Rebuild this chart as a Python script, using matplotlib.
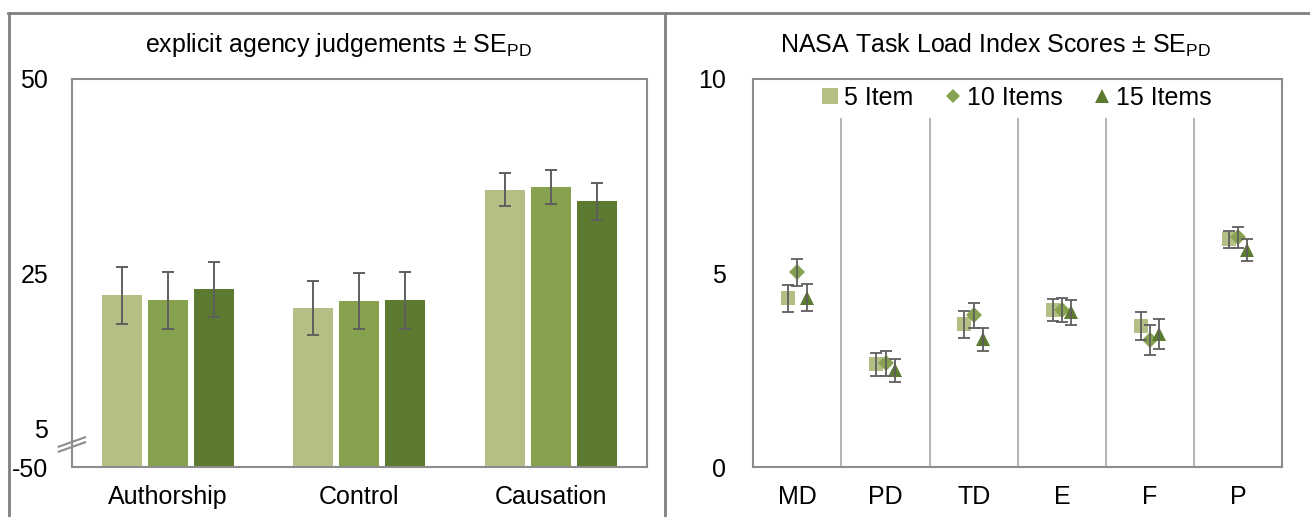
import numpy as np
import matplotlib
matplotlib.use("Agg")
import matplotlib.pyplot as plt
from matplotlib.lines import Line2D

plt.rcParams['font.family'] = ['Liberation Sans', 'DejaVu Sans']
plt.rcParams['mathtext.default'] = 'regular'

# ---------------- data ----------------
series_labels = ['5 Item', '10 Items', '15 Items']
colors = ['#B4BF85', '#86A24F', '#5C7A30']

agency_cats = ['Authorship', 'Control', 'Causation']
agency_5 = [22.15, 20.5, 35.75]
agency_5_err = [3.7, 3.45, 2.1]
agency_10 = [21.5, 21.4, 36.05]
agency_10_err = [3.65, 3.6, 2.2]
agency_15 = [22.9, 21.5, 34.25]
agency_15_err = [3.55, 3.7, 2.35]
agency_ticks = [-50, 5, 25, 50]

tlx_cats = ['MD', 'PD', 'TD', 'E', 'F', 'P']
tlx_5 = [4.35, 2.65, 3.68, 4.05, 3.65, 5.87]
tlx_5_err = [0.34, 0.30, 0.34, 0.29, 0.36, 0.22]
tlx_10 = [5.02, 2.68, 3.92, 4.05, 3.28, 5.93]
tlx_10_err = [0.34, 0.32, 0.32, 0.31, 0.38, 0.27]
tlx_15 = [4.37, 2.50, 3.30, 3.99, 3.44, 5.60]
tlx_15_err = [0.34, 0.30, 0.30, 0.32, 0.39, 0.28]
tlx_ticks = [0, 5, 10]

W, H = 1310, 517
fig = plt.figure(figsize=(W / 100, H / 100), dpi=100)

FS = 18
GRAY = '#8C8C8C'
ERR = '#5F5F5F'

def fx(px):
    return px / W

def fy(py):
    return 1 - py / H

# ---------------- left panel ----------------
ax1 = fig.add_axes([fx(71.7), fy(467.3), fx(647) - fx(71.7), fy(79) - fy(467.3)])

def fwd(v):
    v = np.asarray(v, float)
    return np.where(v >= 5, v, 5 + (v - 5) * (5.0 / 55.0))

def inv(y):
    y = np.asarray(y, float)
    return np.where(y >= 5, y, 5 + (y - 5) * (55.0 / 5.0))

ax1.set_yscale('function', functions=(fwd, inv))
base = agency_ticks[0]
x = np.arange(len(agency_cats))
offs = [-0.24, 0.0, 0.24]
for vals, errs, c, o in zip([agency_5, agency_10, agency_15],
                            [agency_5_err, agency_10_err, agency_15_err],
                            colors, offs):
    ax1.bar(x + o, np.array(vals) - base, 0.209, bottom=base, color=c,
            yerr=errs, error_kw=dict(ecolor=ERR, elinewidth=1.4, capsize=4.5, capthick=1.4),
            zorder=2)
ax1.set_ylim(agency_ticks[0], agency_ticks[-1])
ax1.set_xlim(-0.5, len(agency_cats) - 0.5)
ax1.set_yticks(agency_ticks)
ax1.set_yticklabels([str(t) for t in agency_ticks])
ax1.yaxis.set_minor_locator(matplotlib.ticker.NullLocator())
ax1.set_xticks(x)
ax1.set_xticklabels(agency_cats)
ax1.tick_params(axis='y', length=0, pad=17, labelsize=FS)
ax1.tick_params(axis='x', length=0, pad=13, labelsize=FS)
for s in ax1.spines.values():
    s.set_color(GRAY)
    s.set_linewidth(1.5)

# axis break marks
for dy in (0, 5):
    fig.add_artist(Line2D([fx(58.7), fx(85)], [fy(446.7 + dy), fy(437.3 + dy)],
                          transform=fig.transFigure, color=GRAY, lw=1.5))

fig.text(fx(338), fy(45), 'explicit agency judgements ± SE$_{PD}$',
         ha='center', va='center', fontsize=FS)

# ---------------- right panel ----------------
ax2 = fig.add_axes([fx(753.3), fy(467.3), fx(1282.3) - fx(753.3), fy(79) - fy(467.3)])
xt = np.arange(len(tlx_cats))
markers = ['s', 'D', '^']
msizes = [10, 8, 10]
moffs = [-0.105, 0.0, 0.105]
for vals, errs, c, m, ms, o in zip([tlx_5, tlx_10, tlx_15],
                                   [tlx_5_err, tlx_10_err, tlx_15_err],
                                   colors, markers, msizes, moffs):
    ax2.plot(xt + o, vals, linestyle='none', marker=m, markersize=ms,
             color=c, markeredgewidth=0, zorder=3)
    ax2.errorbar(xt + o, vals, yerr=errs, fmt='none', ecolor=ERR,
                 elinewidth=1.3, capsize=4.5, capthick=1.3, zorder=4)
ax2.set_xlim(-0.5, len(tlx_cats) - 0.5)
ax2.set_ylim(tlx_ticks[0], tlx_ticks[-1])
ax2.set_yticks(tlx_ticks)
ax2.set_xticks(xt)
ax2.set_xticklabels(tlx_cats)
ax2.set_xticks(np.arange(0.5, len(tlx_cats) - 0.5), minor=True)
ax2.grid(which='minor', axis='x', color='#A8A8A8', lw=1.2, zorder=0)
ax2.tick_params(axis='y', length=0, pad=20, labelsize=FS)
ax2.tick_params(axis='x', length=0, pad=13, labelsize=FS)
ax2.tick_params(which='minor', length=0)
for s in ax2.spines.values():
    s.set_color(GRAY)
    s.set_linewidth(1.5)

handles = [Line2D([], [], linestyle='none', marker=m, color=c, markersize=s,
                  markeredgewidth=0)
           for m, c, s in zip(markers, colors, [12, 7, 10])]
leg = ax2.legend(handles, series_labels, ncol=3, loc='center',
                 bbox_to_anchor=(0.495, 0.951), fontsize=FS, frameon=True,
                 fancybox=False, handletextpad=0.1, columnspacing=1.15,
                 handlelength=0.9, borderpad=0.3)
leg.get_frame().set_facecolor('white')
leg.get_frame().set_edgecolor('none')
leg.get_frame().set_alpha(1)
leg.set_zorder(2)

fig.text(fx(996), fy(45), 'NASA Task Load Index Scores ± SE$_{PD}$',
         ha='center', va='center', fontsize=FS)

# outer panel frame
FRAME = '#7F7F7F'
fig.add_artist(Line2D([fx(8), fx(1310)], [fy(13), fy(13)], transform=fig.transFigure,
                      color=FRAME, lw=2))
for px in (9, 665):
    fig.add_artist(Line2D([fx(px), fx(px)], [fy(13), fy(517)], transform=fig.transFigure,
                          color=FRAME, lw=2))

fig.savefig('out.png', dpi=100)
